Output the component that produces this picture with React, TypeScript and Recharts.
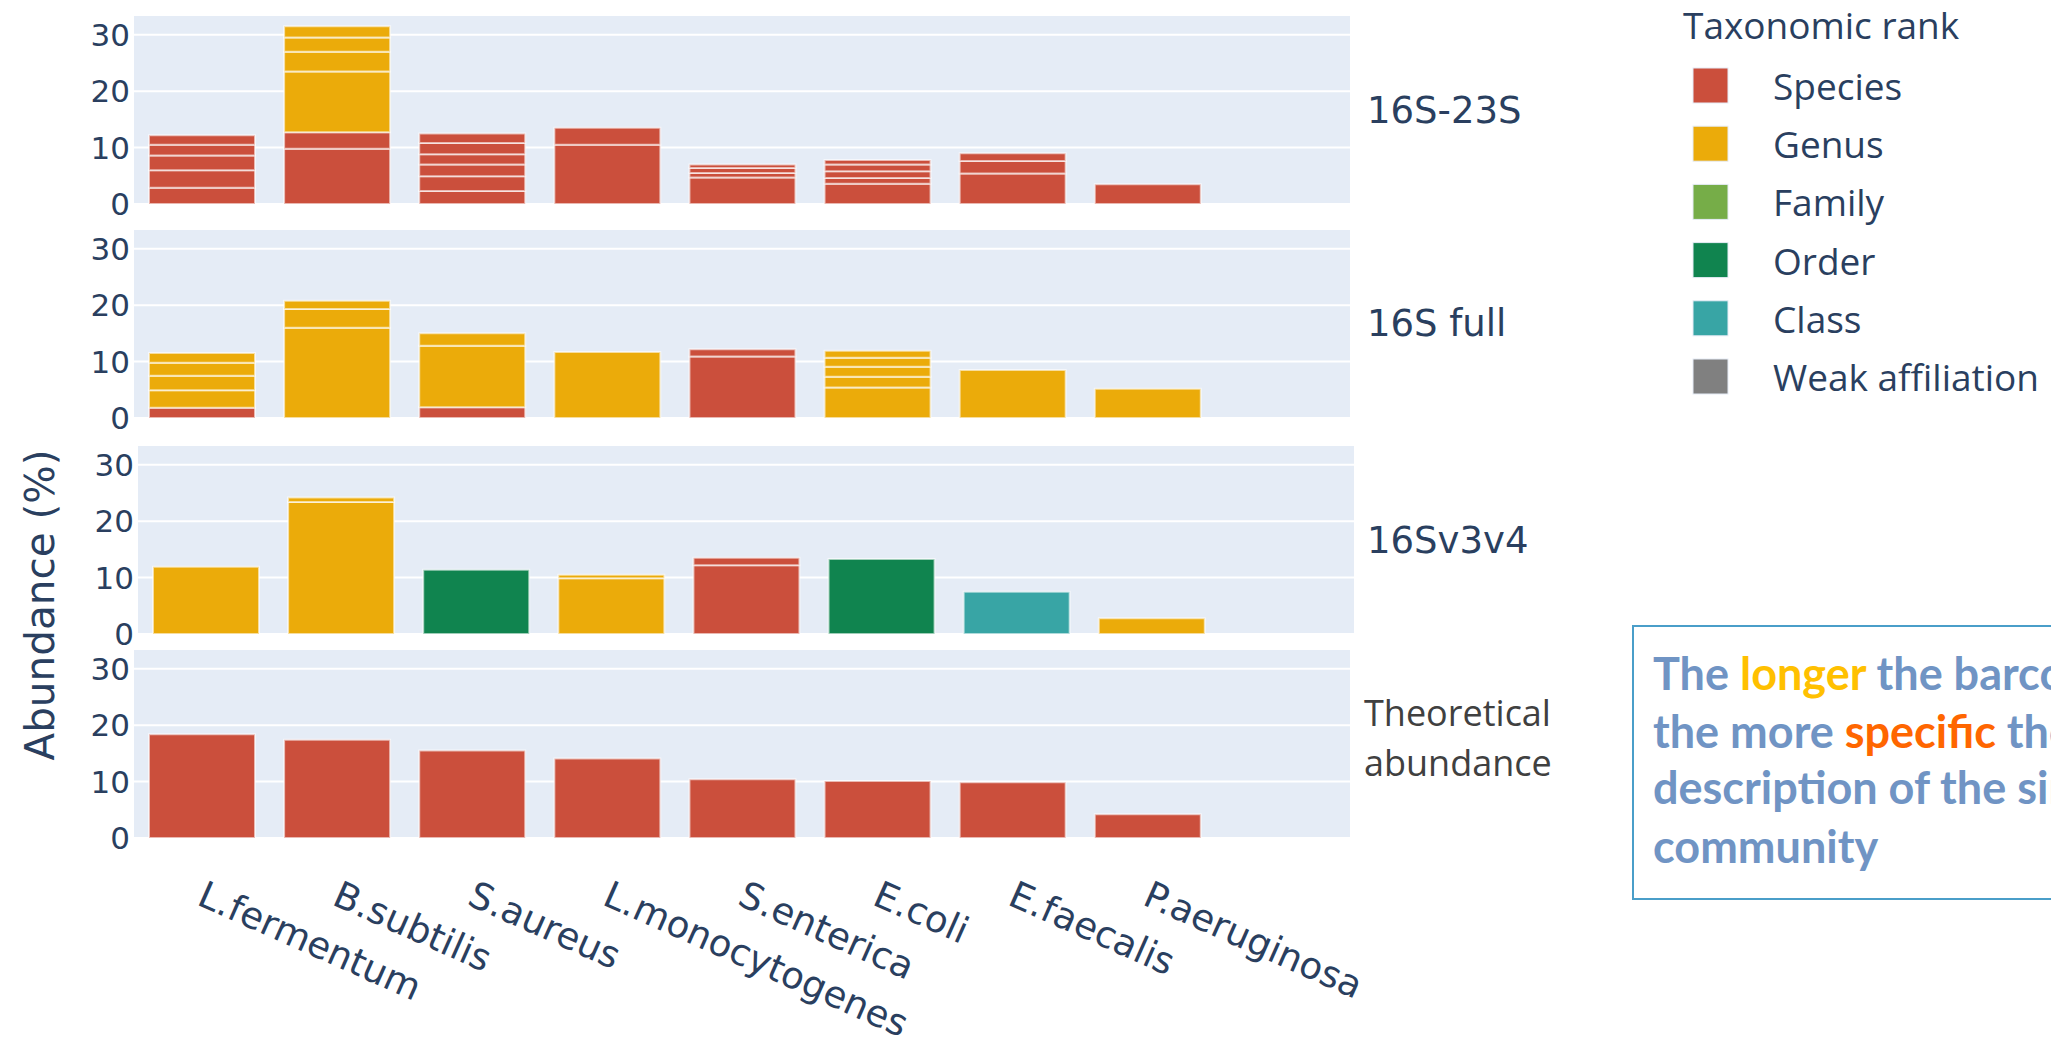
import React from 'react'
import { BarChart, Bar, XAxis, YAxis, CartesianGrid, Cell } from 'recharts'

const species = [
  'L.fermentum',
  'B.subtilis',
  'S.aureus',
  'L.monocytogenes',
  'S.enterica',
  'E.coli',
  'E.faecalis',
  'P.aeruginosa',
  '',
]

const rankKeys = ['S', 'G', 'F', 'O', 'C', 'W']
const rankNames = ['Species', 'Genus', 'Family', 'Order', 'Class', 'Weak affiliation']
const rankColors: Record<string, string> = {
  S: '#cb4f3c',
  G: '#ebab0a',
  F: '#76ad48',
  O: '#10844f',
  C: '#38a5a5',
  W: '#808080',
}

// one letter per stacked segment (bottom to top), values in %
const ranks16S23S = ['SSSSS', 'SSGGGG', 'SSSSSS', 'SS', 'SSSS', 'SSSSS', 'SSS', 'S', '']
const values16S23S = [
  [2.9, 3.1, 2.6, 1.9, 1.7],
  [9.8, 2.9, 10.8, 3.5, 2.5, 2.0],
  [2.3, 2.6, 2.1, 1.8, 2.0, 1.7],
  [10.5, 3.0],
  [4.7, 0.8, 0.9, 0.6],
  [3.6, 1.0, 1.2, 1.2, 0.8],
  [5.4, 2.2, 1.4],
  [3.5],
  [],
]

const ranks16Sfull = ['SGGGG', 'GGG', 'SGG', 'G', 'SS', 'GGGGG', 'G', 'G', '']
const values16Sfull = [
  [1.8, 3.1, 2.6, 2.3, 1.7],
  [16.0, 3.3, 1.5],
  [1.9, 10.9, 2.2],
  [11.7],
  [10.9, 1.3],
  [5.4, 1.9, 1.8, 1.6, 1.2],
  [8.5],
  [5.2],
  [],
]

const ranks16Sv3v4 = ['G', 'GG', 'O', 'GG', 'SS', 'O', 'C', 'G', '']
const values16Sv3v4 = [
  [11.9],
  [23.4, 0.8],
  [11.4],
  [9.9, 0.6],
  [12.2, 1.3],
  [13.3],
  [7.5],
  [2.8],
  [],
]

const ranksTheory = ['S', 'S', 'S', 'S', 'S', 'S', 'S', 'S', '']
const valuesTheory = [[18.4], [17.4], [15.5], [14.1], [10.4], [10.1], [9.9], [4.2], []]

const yTicks = [0, 10, 20, 30]
const panelLabels = ['16S-23S', '16S full', '16Sv3v4']

const MAX_SEG = 6
const PLOT_W = 1216
const Y_W = 134
const PLOT_H = 189
const X_H = 206
const AXIS_COLOR = '#2a3f5f'
const PLOT_FONT = '"DejaVu Sans", Verdana, sans-serif'

function buildRows(ranks: string[], values: number[][]) {
  return species.map((name, i) => {
    const row: Record<string, any> = { name }
    for (let j = 0; j < MAX_SEG; j++) {
      row['v' + j] = values[i][j] ?? 0
      row['r' + j] = ranks[i][j] ?? 'S'
    }
    return row
  })
}

function SpeciesTick(props: any) {
  const { x, y, payload } = props
  return (
    <text
      x={0}
      y={0}
      transform={`translate(${x - 6},${y + 66}) rotate(24)`}
      fontFamily={PLOT_FONT}
      fontSize={37}
      fill={AXIS_COLOR}
      textAnchor="start"
    >
      {payload.value}
    </text>
  )
}

function Panel({ rows, top, left, showX }: { rows: any[]; top: number; left: number; showX?: boolean }) {
  const segs = Array.from({ length: MAX_SEG }, (_, j) => j)
  const bottom = showX ? 0 : 22
  const right = showX ? 220 : 0
  return (
    <div style={{ position: 'absolute', left, top }}>
      <BarChart
        width={Y_W + PLOT_W + right}
        height={PLOT_H + (showX ? X_H : 0) + bottom}
        data={rows}
        margin={{ top: 0, right, bottom, left: 0 }}
        barSize={106}
      >
        <CartesianGrid vertical={false} stroke="#ffffff" strokeWidth={2} fill="#e5ecf6" />
        <XAxis
          dataKey="name"
          hide={!showX}
          interval={0}
          tickLine={false}
          axisLine={false}
          tickSize={0}
          tickMargin={0}
          height={X_H}
          tick={(p: any) => <SpeciesTick {...p} />}
        />
        <YAxis
          type="number"
          domain={[0, 33.5]}
          ticks={yTicks}
          allowDataOverflow
          width={Y_W}
          tickLine={false}
          axisLine={false}
          tickSize={0}
          tickMargin={4}
          tick={{ fontSize: 31, fill: AXIS_COLOR, fontFamily: PLOT_FONT }}
        />
        {segs.map((j) => (
          <Bar
            key={j}
            dataKey={'v' + j}
            stackId="a"
            isAnimationActive={false}
            stroke="rgba(255,255,255,0.6)"
            strokeWidth={2}
          >
            {rows.map((r, i) => (
              <Cell key={i} fill={rankColors[r['r' + j]]} />
            ))}
          </Bar>
        ))}
      </BarChart>
    </div>
  )
}

export default function App() {
  const panels = [
    { rows: buildRows(ranks16S23S, values16S23S), top: 15, left: 0 },
    { rows: buildRows(ranks16Sfull, values16Sfull), top: 229, left: 0 },
    { rows: buildRows(ranks16Sv3v4, values16Sv3v4), top: 445, left: 4 },
  ]
  const labelCenters = [110, 323, 540]
  const textBlue = '#7094c4'

  return (
    <div
      style={{
        position: 'fixed',
        left: 0,
        top: 0,
        width: 2051,
        height: 1044,
        overflow: 'hidden',
        background: '#ffffff',
      }}
    >
      {panels.map((p, i) => (
        <Panel key={i} rows={p.rows} top={p.top} left={p.left} />
      ))}
      <Panel rows={buildRows(ranksTheory, valuesTheory)} top={649} left={0} showX />

      <svg width={2051} height={1044} style={{ position: 'absolute', left: 0, top: 0, pointerEvents: 'none' }}>
        <text
          transform="translate(54,605) rotate(-90)"
          textAnchor="middle"
          fontFamily={PLOT_FONT}
          fontSize={40.5}
          fill={AXIS_COLOR}
        >
          Abundance (%)
        </text>

        {panelLabels.map((t, i) => (
          <text key={t} x={1367} y={labelCenters[i] + 13} fontFamily={PLOT_FONT} fontSize={37} fill={AXIS_COLOR}>
            {t}
          </text>
        ))}
        <text x={1364} y={726} fontFamily='"Open Sans", sans-serif' fontSize={36} fill="#404040">
          Theoretical
        </text>
        <text x={1364} y={776} fontFamily='"Open Sans", sans-serif' fontSize={36} fill="#404040">
          abundance
        </text>

        {/* legend */}
        <text x={1683} y={39} fontFamily='"Open Sans", sans-serif' fontSize={37} fill={AXIS_COLOR}>
          Taxonomic rank
        </text>
        {rankKeys.map((k, i) => (
          <g key={k}>
            <rect
              x={1693}
              y={68 + i * 58.2}
              width={35}
              height={35}
              fill={rankColors[k]}
              stroke="#e5ecf6"
              strokeWidth={1}
            />
            <text x={1773} y={100 + i * 58.2} fontFamily='"Open Sans", sans-serif' fontSize={37} fill={AXIS_COLOR}>
              {rankNames[i]}
            </text>
          </g>
        ))}

        {/* note box, cut by the right edge as in the slide */}
        <rect x={1633} y={626} width={500} height={273} fill="none" stroke="#4a9ec9" strokeWidth={2} />
        <g fontFamily="Lato, sans-serif" fontWeight={700} fontSize={45} fill={textBlue}>
          <text x={1653} y={690}>
            The <tspan fill="#ffc000">longer</tspan> the barcode,
          </text>
          <text x={1653} y={748}>
            the more <tspan fill="#ff6600">specific</tspan> the
          </text>
          <text x={1653} y={804}>description of the simulated</text>
          <text x={1653} y={863}>community</text>
        </g>
      </svg>
    </div>
  )
}
